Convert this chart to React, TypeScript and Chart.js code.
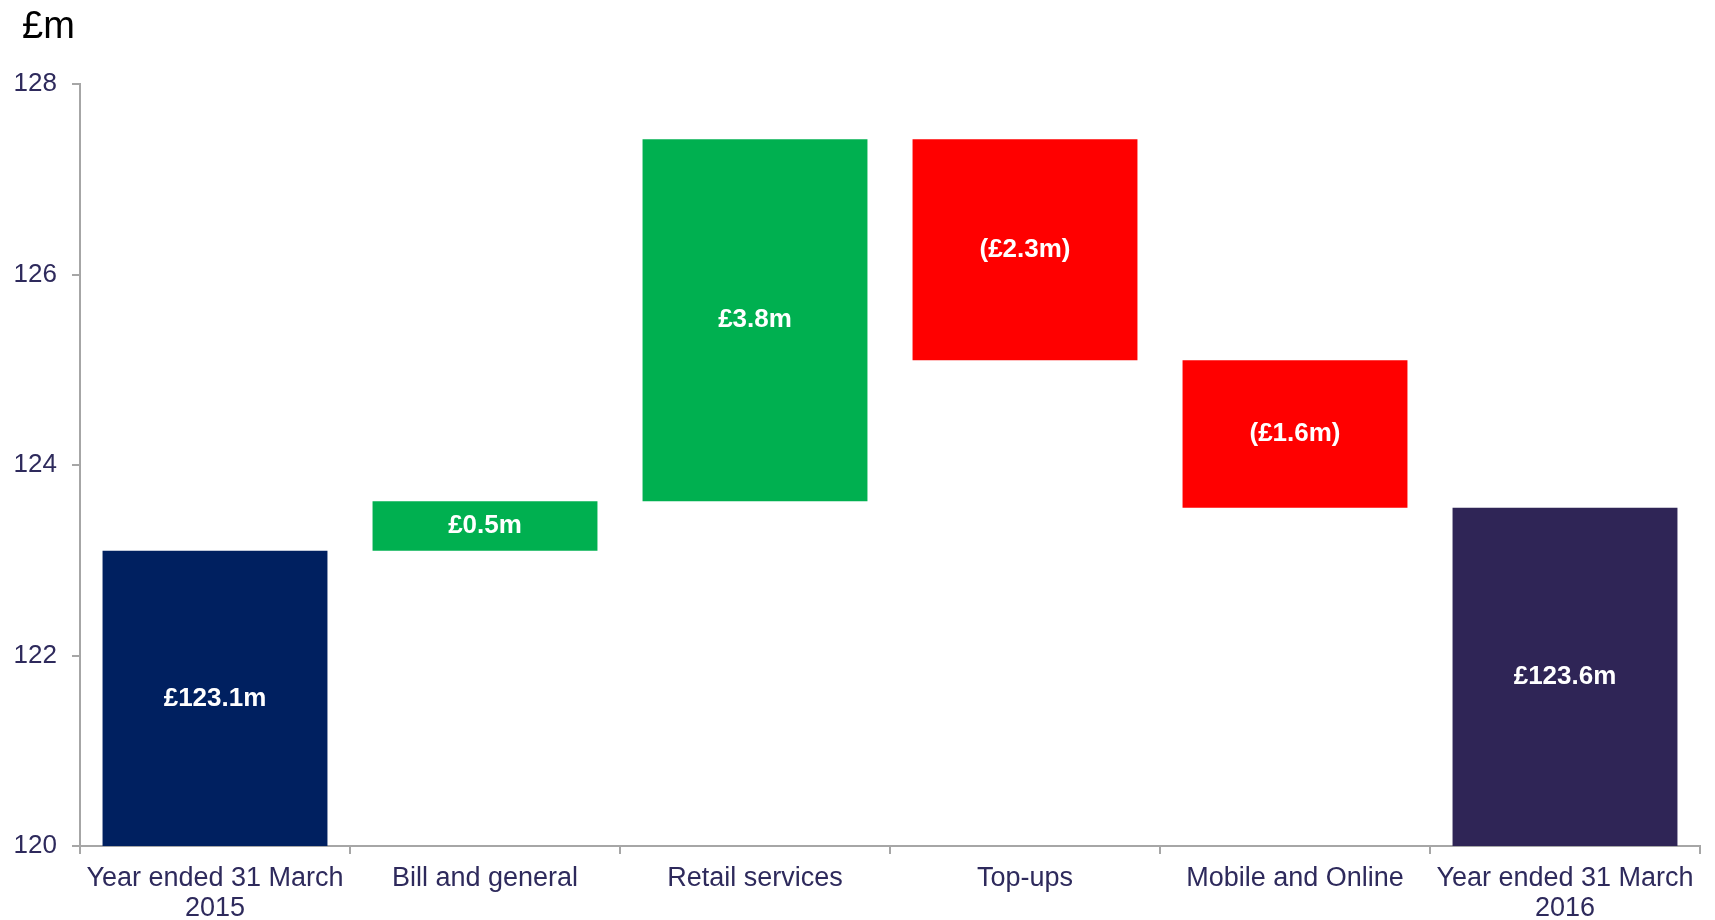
import React, { useEffect, useRef } from 'react';
import { Chart, registerables } from 'chart.js';

Chart.register(...registerables);

const categories: (string | string[])[] = [
  ['Year ended 31 March', '2015'],
  'Bill and general',
  'Retail services',
  'Top-ups',
  'Mobile and Online',
  ['Year ended 31 March', '2016'],
];
const barStarts = [120, 123.1, 123.62, 125.1, 123.55, 120];
const barEnds = [123.1, 123.62, 127.42, 127.42, 125.1, 123.55];
const barLabels = ['£123.1m', '£0.5m', '£3.8m', '(£2.3m)', '(£1.6m)', '£123.6m'];
const barColors = ['#002060', '#00B050', '#00B050', '#FF0000', '#FF0000', '#2F2556'];
const unitLabel = '£m';
const yMin = 120;
const yMax = 128;
const yStep = 2;

const FONT = '"Liberation Sans", Arial, Helvetica, sans-serif';
const TEXT = '#2E2A5C';
const AXIS = '#A6A6A6';

const labelPlugin = {
  id: 'barLabels',
  afterDatasetsDraw(chart: any) {
    const ctx = chart.ctx;
    const meta = chart.getDatasetMeta(0);
    ctx.save();
    ctx.font = `bold 26px ${FONT}`;
    ctx.fillStyle = '#FFFFFF';
    ctx.textAlign = 'center';
    ctx.textBaseline = 'middle';
    meta.data.forEach((el: any, i: number) => {
      const { x, y, base } = el.getProps(['x', 'y', 'base'], true);
      ctx.fillText(barLabels[i], x, (y + base) / 2);
    });
    ctx.restore();
  },
};

const unitPlugin = {
  id: 'unitTitle',
  afterDraw(chart: any) {
    const ctx = chart.ctx;
    ctx.save();
    ctx.font = `38px ${FONT}`;
    ctx.fillStyle = '#000000';
    ctx.textAlign = 'left';
    ctx.textBaseline = 'alphabetic';
    ctx.fillText(unitLabel, 22, 38);
    ctx.restore();
  },
};

export default function App() {
  const ref = useRef<HTMLCanvasElement | null>(null);

  useEffect(() => {
    if (!ref.current) return;
    const chart = new Chart(ref.current, {
      type: 'bar',
      data: {
        labels: categories,
        datasets: [
          {
            data: barStarts.map((s, i) => [s, barEnds[i]]) as any,
            backgroundColor: barColors,
            borderWidth: 0,
            categoryPercentage: 1,
            barPercentage: 0.833,
          },
        ],
      },
      options: {
        animation: false,
        responsive: false,
        maintainAspectRatio: false,
        layout: { padding: { left: 0, right: 15, top: 84, bottom: 0 } },
        plugins: {
          legend: { display: false },
          tooltip: { enabled: false },
          title: { display: false },
        },
        scales: {
          x: {
            afterFit: (scale: any) => {
              scale.height = 74;
            },
            grid: {
              display: true,
              drawOnChartArea: false,
              drawTicks: true,
              tickLength: 8,
              color: AXIS,
              lineWidth: 2,
              offset: true,
            },
            border: { display: true, color: AXIS, width: 2 },
            ticks: {
              color: TEXT,
              font: { family: FONT, size: 27, lineHeight: 1.1 },
              padding: 10,
              maxRotation: 0,
              autoSkip: false,
            },
          },
          y: {
            min: yMin,
            max: yMax,
            afterFit: (scale: any) => {
              scale.width = 80;
            },
            grid: {
              display: true,
              drawOnChartArea: false,
              drawTicks: true,
              tickLength: 8,
              color: AXIS,
              lineWidth: 2,
            },
            border: { display: true, color: AXIS, width: 2 },
            ticks: {
              stepSize: yStep,
              color: TEXT,
              font: { family: FONT, size: 26 },
              padding: 15,
            },
          },
        },
      },
      plugins: [labelPlugin, unitPlugin],
    });
    return () => chart.destroy();
  }, []);

  return (
    <div style={{ position: 'absolute', left: 0, top: 0, width: 1715, height: 920, background: '#fff' }}>
      <canvas ref={ref} width={1715} height={920} style={{ width: 1715, height: 920, display: 'block' }} />
    </div>
  );
}
